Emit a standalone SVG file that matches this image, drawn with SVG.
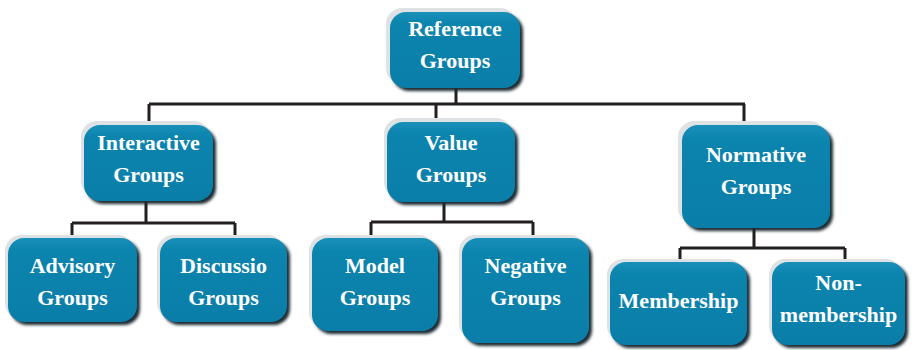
<svg xmlns="http://www.w3.org/2000/svg" width="915" height="350" viewBox="0 0 915 350">
<defs>
<linearGradient id="teal" x1="0" y1="0" x2="0" y2="1">
<stop offset="0" stop-color="#1990b8"/>
<stop offset="0.15" stop-color="#0b84ae"/>
<stop offset="1" stop-color="#0a7ea8"/>
</linearGradient>
<filter id="sh" x="-20%" y="-20%" width="140%" height="140%">
<feGaussianBlur stdDeviation="1.5"/>
</filter>
</defs>
<style>
.bev{fill:#dfe2e4}
.shd{fill:#1f2a30;filter:url(#sh)}
.box{fill:url(#teal)}
.t{font-family:"Liberation Serif","Times New Roman",serif;font-weight:bold;font-size:22px;fill:#ffffff;text-anchor:middle}
.c{fill:none;stroke:#231f20;stroke-width:3}
</style>
<g id="connectors">
<path class="c" d="M456,88 V104 M149,104 H745 M149,104 V125 M436,104 V122 M744,104 V125"/>
<path class="c" d="M146,201 V223 M72,223 H235 M72,223 V238 M235,223 V238"/>
<path class="c" d="M444,202 V222 M371,222 H533 M371,222 V238 M533,222 V238"/>
<path class="c" d="M754,228 V248 M680,248 H845 M680,248 V262 M845,248 V262"/>
</g>
<g id="reference">
<rect class="bev" x="386" y="8" width="130" height="76" rx="16"/>
<rect class="shd" x="393" y="15" width="130" height="76" rx="16"/>
<rect class="box" x="390" y="12" width="130" height="76" rx="16"/>
<text class="t" x="455" y="36">Reference</text>
<text class="t" x="455" y="68">Groups</text>
</g>
<g id="interactive">
<rect class="bev" x="81" y="121" width="129" height="76" rx="16"/>
<rect class="shd" x="87" y="128" width="129" height="76" rx="16"/>
<rect class="box" x="84" y="125" width="129" height="76" rx="16"/>
<text class="t" x="148.5" y="150">Interactive</text>
<text class="t" x="148.5" y="182">Groups</text>
</g>
<g id="value">
<rect class="bev" x="384" y="118" width="128" height="80" rx="16"/>
<rect class="shd" x="390" y="125" width="128" height="80" rx="16"/>
<rect class="box" x="387" y="122" width="128" height="80" rx="16"/>
<text class="t" x="451" y="150">Value</text>
<text class="t" x="451" y="182">Groups</text>
</g>
<g id="normative">
<rect class="bev" x="678" y="121" width="148" height="103" rx="16"/>
<rect class="shd" x="685" y="128" width="148" height="103" rx="16"/>
<rect class="box" x="682" y="125" width="148" height="103" rx="16"/>
<text class="t" x="756" y="162">Normative</text>
<text class="t" x="756" y="194">Groups</text>
</g>
<g id="advisory">
<rect class="bev" x="5" y="235" width="129" height="84" rx="16"/>
<rect class="shd" x="11" y="241" width="129" height="84" rx="16"/>
<rect class="box" x="8" y="238" width="129" height="84" rx="16"/>
<text class="t" x="72.5" y="273">Advisory</text>
<text class="t" x="72.5" y="305">Groups</text>
</g>
<g id="discussion">
<rect class="bev" x="157" y="235" width="127" height="84" rx="16"/>
<rect class="shd" x="163" y="241" width="127" height="84" rx="16"/>
<rect class="box" x="160" y="238" width="127" height="84" rx="16"/>
<text class="t" x="223.5" y="273">Discussio</text>
<text class="t" x="223.5" y="305">Groups</text>
</g>
<g id="model">
<rect class="bev" x="309" y="235" width="126" height="93" rx="16"/>
<rect class="shd" x="315" y="241" width="126" height="93" rx="16"/>
<rect class="box" x="312" y="238" width="126" height="93" rx="16"/>
<text class="t" x="375" y="273">Model</text>
<text class="t" x="375" y="305">Groups</text>
</g>
<g id="negative">
<rect class="bev" x="459" y="235" width="127" height="105" rx="16"/>
<rect class="shd" x="465" y="241" width="127" height="105" rx="16"/>
<rect class="box" x="462" y="238" width="127" height="105" rx="16"/>
<text class="t" x="525.5" y="273">Negative</text>
<text class="t" x="525.5" y="305">Groups</text>
</g>
<g id="membership">
<rect class="bev" x="607" y="259" width="137" height="83" rx="16"/>
<rect class="shd" x="613" y="265" width="137" height="83" rx="16"/>
<rect class="box" x="610" y="262" width="137" height="83" rx="16"/>
<text class="t" x="678.5" y="308">Membership</text>
</g>
<g id="nonmembership">
<rect class="bev" x="769" y="259" width="133" height="83" rx="16"/>
<rect class="shd" x="775" y="265" width="133" height="83" rx="16"/>
<rect class="box" x="772" y="262" width="133" height="83" rx="16"/>
<text class="t" x="838.5" y="290">Non-</text>
<text class="t" x="838.5" y="322">membership</text>
</g>
</svg>
